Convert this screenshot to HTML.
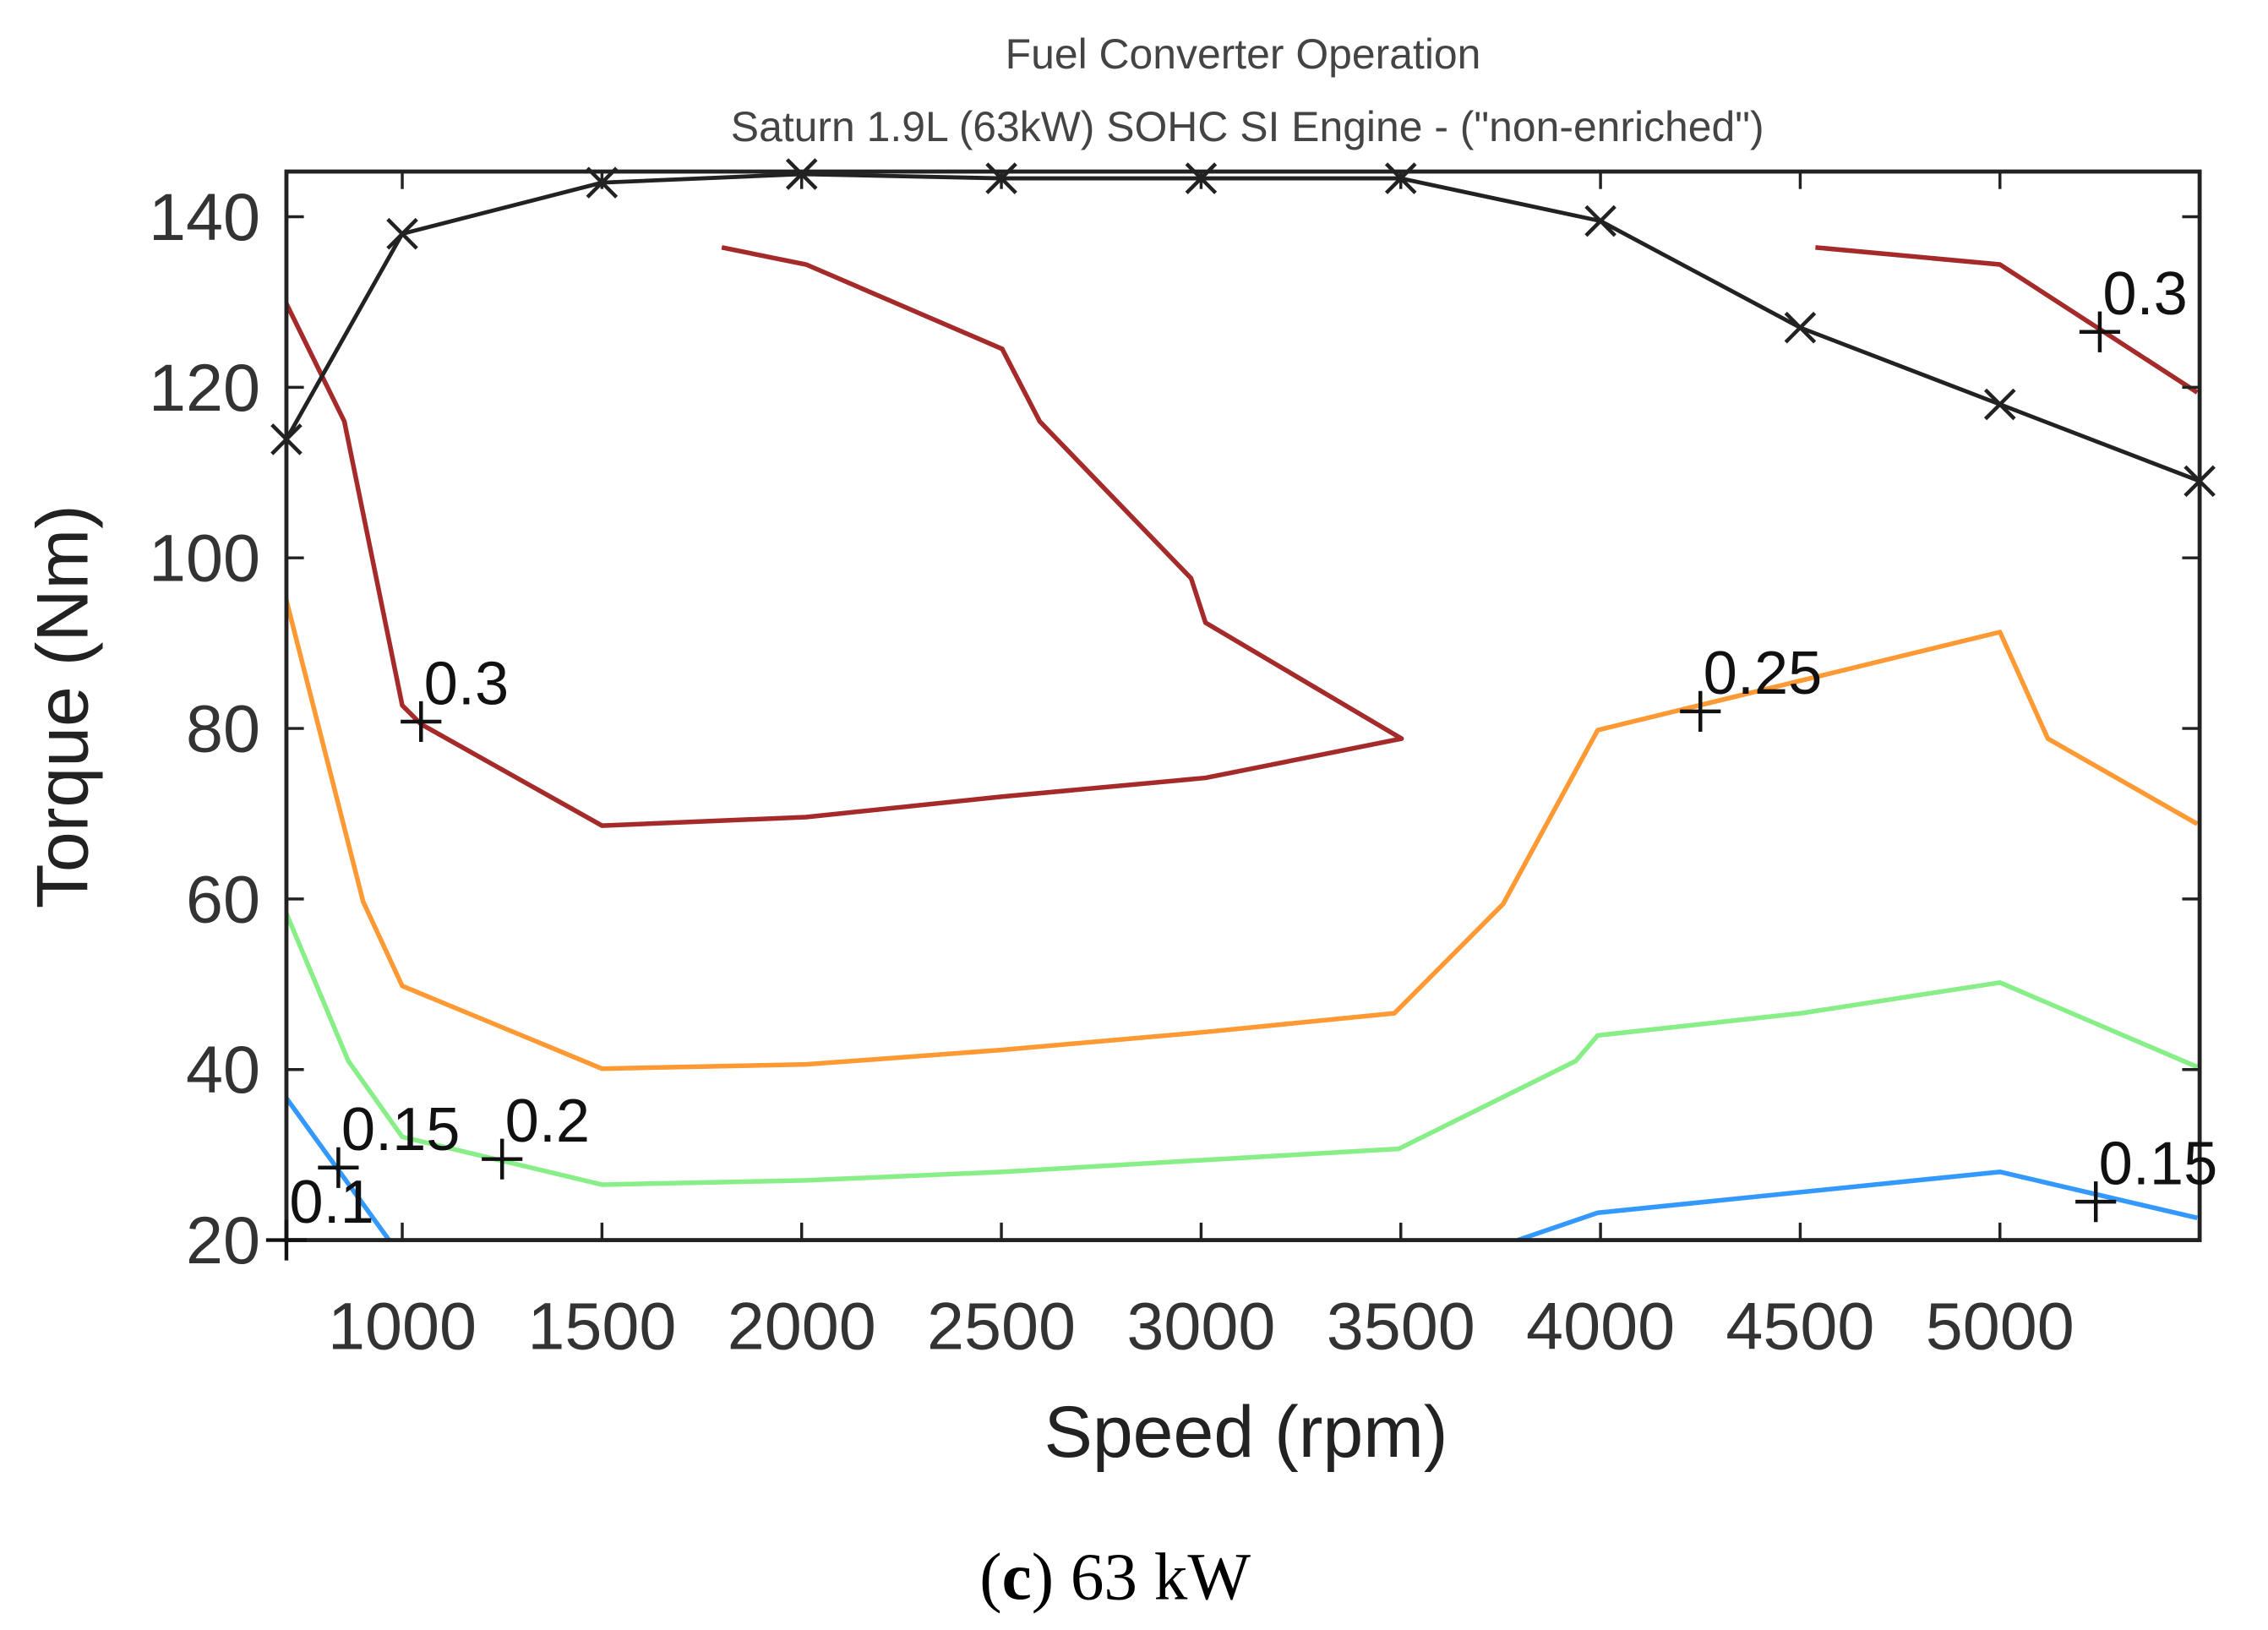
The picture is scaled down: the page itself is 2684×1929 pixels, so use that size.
<!DOCTYPE html>
<html><head><meta charset="utf-8"><style>
html,body{margin:0;padding:0;background:#fff;}
svg{display:block;font-family:"Liberation Sans",sans-serif;}
</style></head><body>
<svg id="chart" width="2684" height="1929" viewBox="0 0 1560 1121.2" xmlns="http://www.w3.org/2000/svg">
<rect width="1560" height="1121.2" fill="#fff"/>
<text x="855" y="47" font-size="29" fill="#444" text-anchor="middle">Fuel Converter Operation</text>
<text x="858" y="97" font-size="29" fill="#444" text-anchor="middle">Saturn 1.9L (63kW) SOHC SI Engine - ("non-enriched")</text>
<g id="plot"></g>
<text x="857" y="1002" font-size="50" fill="#222" text-anchor="middle">Speed (rpm)</text>
<text transform="translate(60,486) rotate(-90)" font-size="50" fill="#222" text-anchor="middle">Torque (Nm)</text>
<text x="767" y="1100" font-size="46" fill="#000" text-anchor="middle" font-family="Liberation Serif, serif">(<tspan font-weight="bold">c</tspan>) 63 kW</text>
</svg>
<script>
const xTicks=[1000,1500,2000,2500,3000,3500,4000,4500,5000];
const yTicks=[20,40,60,80,100,120,140];
const maxX=[710,1000,1500,2000,2500,3000,3500,4000,4500,5000,5500];
const maxY=[113.9,138,144,145,144.5,144.5,144.5,139.5,127,118,109];
const red1X=[709,855,1000,1047,1500,2011,2502,3011,3502,3011,2975,2596,2502,2011,1800];
const red1Y=[129.9,116,82.7,80.5,68.6,69.6,72,74.2,78.8,92.4,97.6,116,124.5,134.4,136.4];
const red2X=[4538,5000,5494];
const red2Y=[136.4,134.4,119.4];
const orX=[709,902,1000,1500,2011,2502,3011,3484,3756,3993,5000,5120,5494];
const orY=[95.2,59.7,49.8,40.1,40.6,42.3,44.4,46.6,59.4,79.8,91.3,78.8,68.8];
const grX=[709,865,1000,1500,2011,2502,3011,3495,3938,3993,4502,5000,5494];
const grY=[58.4,41,32.1,26.5,27,28,29.4,30.7,41,44,46.6,50.2,40.3];
const bl1X=[709,967];
const bl1Y=[36.7,20];
const bl2X=[3793,3993,5000,5494];
const bl2Y=[20,23.2,28,22.6];
const lblText=["0.3","0.25","0.3","0.15","0.15","0.2","0.1"];
const lblX=[1047,4250,5250,5240,840,1250,710];
const lblY=[80.8,82,126.5,24.5,28.5,29.5,20];

const L=197,R=1513,T=118,B=853;
const XMIN=710,XMAX=5500,YMIN=20,YMAX=145.3;
const sx=v=>L+(v-XMIN)/(XMAX-XMIN)*(R-L);
const sy=v=>B-(v-YMIN)/(YMAX-YMIN)*(B-T);
const NS="http://www.w3.org/2000/svg";
const g=document.getElementById('plot');
function mk(tag,attrs,parent){const e=document.createElementNS(NS,tag);for(const k in attrs)e.setAttribute(k,attrs[k]);(parent||g).appendChild(e);return e;}
const defs=mk('defs',{});const cp=mk('clipPath',{id:'clip'},defs);mk('rect',{x:L,y:T,width:R-L,height:B-T},cp);
function line(xs,ys,color,name,w){
  const p=mk('polyline',{points:xs.map((x,i)=>sx(x)+','+sy(ys[i])).join(' '),fill:'none',stroke:color,'stroke-width':w||3.2,'stroke-linejoin':'round','clip-path':'url(#clip)'});
  
  
}
line(red1X,red1Y,'#a52a2a','contour-0.3-left');
line(red2X,red2Y,'#a52a2a','contour-0.3-right');
line(orX,orY,'#ff9933','contour-0.25');
line(grX,grY,'#88ee88','contour-0.2');
line(bl1X,bl1Y,'#3399ff','contour-0.15-left');
line(bl2X,bl2Y,'#3399ff','contour-0.15-right');
line(maxX,maxY,'#222','max-torque-line',2.8);
maxX.forEach((x,i)=>{const cx=sx(x),cy=sy(maxY[i]),s=10;
  const m=mk('path',{d:`M${cx-s},${cy-s}L${cx+s},${cy+s}M${cx-s},${cy+s}L${cx+s},${cy-s}`,stroke:'#222','stroke-width':2.6});
  
  
});
const box=mk('rect',{x:L,y:T,width:R-L,height:B-T,fill:'none',stroke:'#222','stroke-width':2.8});


xTicks.forEach(v=>{const x=sx(v);
  mk('line',{x1:x,x2:x,y1:B,y2:B-12,stroke:'#222','stroke-width':2});
  mk('line',{x1:x,x2:x,y1:T,y2:T+12,stroke:'#222','stroke-width':2});
  const t=mk('text',{x:x,y:B+75,'font-size':46,fill:'#333','text-anchor':'middle'});t.textContent=v;
  
  
});
yTicks.forEach(v=>{const y=sy(v);
  mk('line',{x1:L,x2:L+12,y1:y,y2:y,stroke:'#222','stroke-width':2});
  mk('line',{x1:R,x2:R-12,y1:y,y2:y,stroke:'#222','stroke-width':2});
  const t=mk('text',{x:L-18,y:y+16,'font-size':46,fill:'#333','text-anchor':'end'});t.textContent=v;
  
  
});
lblText.forEach((s,i)=>{const cx=sx(lblX[i]),cy=sy(lblY[i]),r=14;
  const m=mk('path',{d:`M${cx-r},${cy}L${cx+r},${cy}M${cx},${cy-r}L${cx},${cy+r}`,stroke:'#111','stroke-width':2.6});
  
  
  const t=mk('text',{x:cx+2,y:cy-12,'font-size':42,fill:'#111'});t.textContent=s;
  
  
});
</script>
</body></html>
